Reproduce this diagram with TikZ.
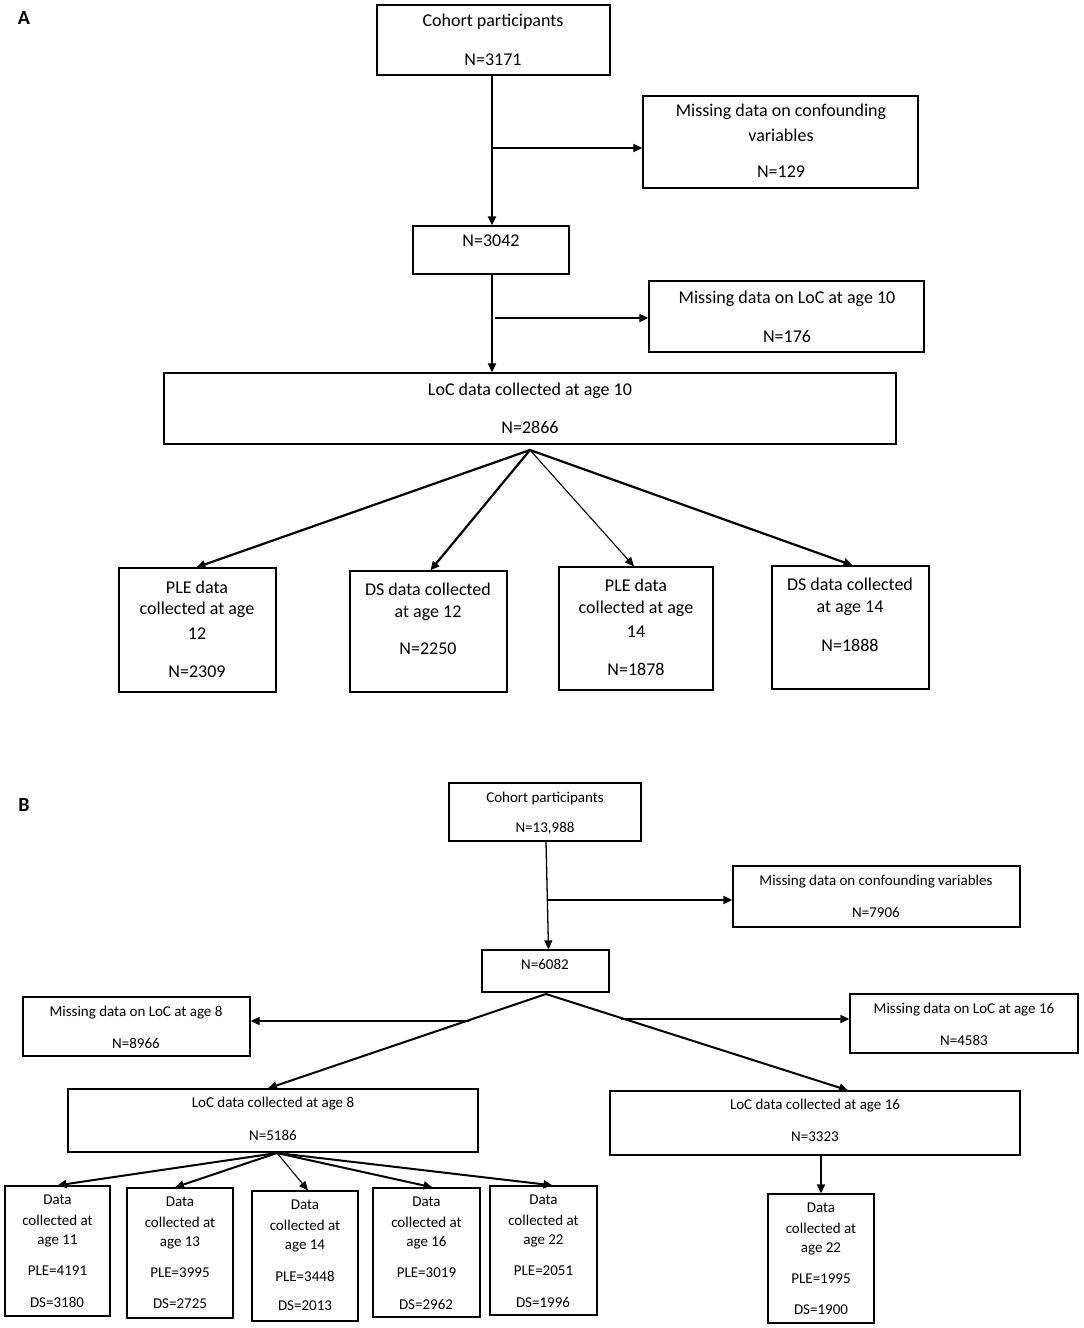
\documentclass[tikz,border=0pt]{standalone}
\usepackage{fontspec}
\setmainfont{Carlito}
\usetikzlibrary{arrows.meta,calc}
\tikzset{
  box/.style={draw, line width=1.3pt, inner sep=0pt, rectangle},
  tA/.style={font=\fontsize{18}{20}\selectfont, inner sep=0pt},
  tB/.style={font=\fontsize{15}{17}\selectfont, inner sep=0pt},
  lab/.style={font=\fontsize{20}{22}\selectfont\bfseries, inner sep=0pt},
  arr/.style={-{Triangle[length=9pt,width=8pt]}, line width=1.8pt},
}
\newcommand{\bx}[5]{\node[box, minimum width={(#4-#2)*1pt}, minimum height={(#5-#3)*1pt}] (#1) at ({(#2+#4)/2},{(#3+#5)/2}) {};}
\newcommand{\dbox}[7]{%
  \bx{#1}{#2}{#3}{#4}{#5}
  \node[tB] (#1a) at ({(#2+#4)/2},{#3+14}) {Data};
  \node[tB] (#1b) at ({(#2+#4)/2},{#3+34}) {collected at};
  \node[tB] (#1c) at ({(#2+#4)/2},{#3+55}) {age #6};
  \node[tB] (#1d) at ({(#2+#4)/2},{#3+85}) {PLE=#7};
}
\begin{document}
\begin{tikzpicture}[x=1pt,y=-1pt]
\useasboundingbox (0,0) rectangle (1084,1328);
% ---------------- Panel A ----------------
\node[lab] (labA) at (24,18) {A};
\bx{ca}{377}{5}{610}{75}
\node[tA] (ca1) at (493,22) {Cohort participants};
\node[tA] (ca2) at (493,60) {N=3171};
\bx{mca}{643}{96}{918}{188}
\node[tA] (mca1) at (781,112) {Missing data on confounding};
\node[tA] (mca2) at (781,135) {variables};
\node[tA] (mca3) at (781,172) {N=129};
\bx{na}{413}{226}{569}{274}
\node[tA] (na1) at (491,241) {N=3042};
\bx{mla}{649}{281}{924}{352}
\node[tA] (mla1) at (787,299) {Missing data on LoC at age 10};
\node[tA] (mla2) at (787,336) {N=176};
\bx{la}{164}{373}{896}{444}
\node[tA] (la1) at (530,391) {LoC data collected at age 10};
\node[tA] (la2) at (530,427) {N=2866};
\bx{pa12}{119}{568}{276}{692}
\node[tA] (pa12a) at (197,587) {PLE data};
\node[tA] (pa12b) at (197,610) {collected at age};
\node[tA] (pa12c) at (197,634) {12};
\node[tA] (pa12d) at (197,672) {N=2309};
\bx{da12}{350}{571}{507}{692}
\node[tA] (da12a) at (428,589) {DS data collected};
\node[tA] (da12b) at (428,613) {at age 12};
\node[tA] (da12c) at (428,649) {N=2250};
\bx{pa14}{559}{567}{713}{690}
\node[tA] (pa14a) at (636,585) {PLE data};
\node[tA] (pa14b) at (636,609) {collected at age};
\node[tA] (pa14c) at (636,632) {14};
\node[tA] (pa14d) at (636,669) {N=1878};
\bx{da14}{772}{566}{929}{689}
\node[tA] (da14a) at (850,584) {DS data collected};
\node[tA] (da14b) at (850,608) {at age 14};
\node[tA] (da14c) at (850,645) {N=1888};
% arrows A
\draw[arr] (ca.south -| 492,0) -- (na.north -| 492,0);
\coordinate (ba1) at (492,148);
\draw[arr] (ba1) -- (ba1 -| mca.west);
\draw[arr] (na.south -| 492,0) -- (la.north -| 492,0);
\coordinate (ba2) at (495,318);
\draw[arr] (ba2) -- (ba2 -| mla.west);
\coordinate (fa) at (530,450);
\draw[arr,line width=2.2pt] (fa) -- ([xshift=-1pt]pa12.north);
\draw[arr,line width=2.2pt] (fa) -- ([xshift=2pt]da12.north);
\draw[arr,line width=1.1pt] (fa) -- ([xshift=-2pt]pa14.north);
\draw[arr,line width=2.2pt] (fa) -- ([xshift=2pt]da14.north);
% ---------------- Panel B ----------------
\node[lab] (labB) at (24,805) {B};
\bx{cb}{449}{783}{641}{841}
\node[tB] (cb1) at (545,798) {Cohort participants};
\node[tB] (cb2) at (545,828) {N=13,988};
\bx{mcb}{733}{866}{1020}{927}
\node[tB] (mcb1) at (876,882) {Missing data on confounding variables};
\node[tB] (mcb2) at (876,912) {N=7906};
\bx{nb}{482}{950}{609}{992}
\node[tB] (nb1) at (545,964) {N=6082};
\bx{ml8}{23}{997}{250}{1056}
\node[tB] (ml8a) at (136,1013) {Missing data on LoC at age 8};
\node[tB] (ml8b) at (136,1043) {N=8966};
\bx{ml16}{850}{994}{1078}{1053}
\node[tB] (ml16a) at (964,1010) {Missing data on LoC at age 16};
\node[tB] (ml16b) at (964,1040) {N=4583};
\bx{l8}{68}{1089}{478}{1152}
\node[tB] (l8a) at (273,1104) {LoC data collected at age 8};
\node[tB] (l8b) at (273,1135) {N=5186};
\bx{l16}{610}{1091}{1020}{1155}
\node[tB] (l16a) at (815,1106) {LoC data collected at age 16};
\node[tB] (l16b) at (815,1137) {N=3323};
% bottom boxes B
\dbox{d11}{5}{1186}{110}{1316}{11}{4191}
\node[tB] (d11e) at (57,1302) {DS=3180};
\dbox{d13}{127}{1188}{233}{1318}{13}{3995}
\node[tB] (d13e) at (180,1304) {DS=2725};
\dbox{d14}{252}{1191}{358}{1321}{14}{3448}
\node[tB] (d14e) at (305,1306) {DS=2013};
\dbox{d16}{373}{1188}{480}{1317}{16}{3019}
\node[tB] (d16e) at (426,1304) {DS=2962};
\dbox{d22}{490}{1186}{597}{1315}{22}{2051}
\node[tB] (d22e) at (543,1302) {DS=1996};
\dbox{e22}{768}{1194}{874}{1323}{22}{1995}
\node[tB] (e22e) at (821,1310) {DS=1900};
% arrows B
\draw[arr,line width=1.3pt] ([xshift=1pt]cb.south) -- ([xshift=3pt]nb.north);
\coordinate (bb1) at (548,900);
\draw[arr] (bb1) -- (bb1 -| mcb.west);
\coordinate (apx) at (546,994);
\draw[arr,line width=2pt] (apx) -- ([xshift=-5pt]l8.north);
\draw[arr,line width=2pt] (apx) -- ([xshift=33pt]l16.north);
\coordinate (bl8) at (469,1021);
\draw[arr] (bl8) -- (bl8 -| ml8.east);
\coordinate (bl16) at (621,1019);
\draw[arr] (bl16) -- (bl16 -| ml16.west);
\coordinate (fb) at (277,1153);
\draw[arr,line width=2pt] (fb) -- (d11.north);
\draw[arr,line width=2pt] (fb) -- ([xshift=-5pt]d13.north);
\draw[arr,line width=1.1pt] (fb) -- ([xshift=3pt]d14.north);
\draw[arr,line width=2pt] (fb) -- ([xshift=6pt]d16.north);
\draw[arr,line width=2pt] (fb) -- ([xshift=9pt]d22.north);
\draw[arr] (e22.north |- l16.south) -- (e22.north);
\end{tikzpicture}
\end{document}
